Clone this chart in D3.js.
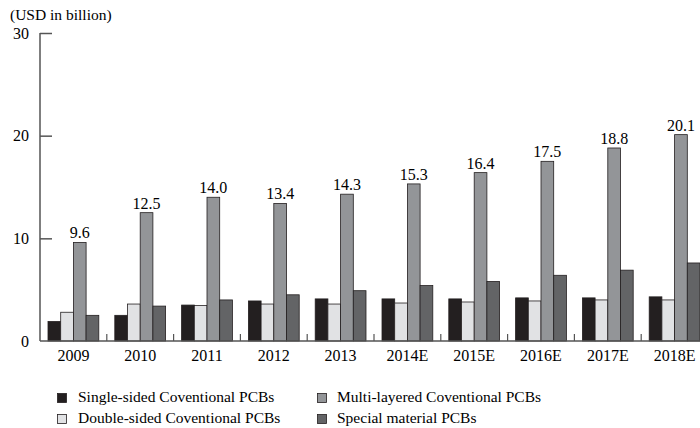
<!DOCTYPE html>
<html>
<head>
<meta charset="utf-8">
<script src="https://cdn.jsdelivr.net/npm/d3@7"></script>
<style>
  body { margin: 0; background: #fff; }
  svg { display: block; font-family: "Liberation Serif", "Times New Roman", serif; }
</style>
</head>
<body>
<svg id="chart" width="700" height="428"></svg>
<script>
var years = ["2009", "2010", "2011", "2012", "2013", "2014E", "2015E", "2016E", "2017E", "2018E"];
var seriesNames = ["Single-sided Coventional PCBs", "Double-sided Coventional PCBs",
                   "Multi-layered Coventional PCBs", "Special material PCBs"];
var singleSided  = [1.9, 2.5, 3.5, 3.9, 4.1, 4.1, 4.1, 4.2, 4.2, 4.3];
var doubleSided  = [2.8, 3.6, 3.45, 3.6, 3.6, 3.7, 3.8, 3.9, 4.0, 4.0];
var multiLayered = [9.6, 12.5, 14.0, 13.4, 14.3, 15.3, 16.4, 17.5, 18.8, 20.1];
var specialMat   = [2.5, 3.4, 4.0, 4.5, 4.9, 5.4, 5.8, 6.4, 6.9, 7.6];
var yTicks = [0, 10, 20, 30];
var colors = ["#231f20", "#e1e2e4", "#939598", "#636466"];

var svg = d3.select("#chart");
var series = [singleSided, doubleSided, multiLayered, specialMat];

var x0 = d3.scaleBand().domain(years).range([40, 708]);
var x1 = d3.scaleBand().domain(d3.range(4)).range([8, x0.bandwidth() - 8]);
var y = d3.scaleLinear().domain([0, 30]).range([341, 33]);

// unit title
svg.append("text")
    .attr("x", 10).attr("y", 20)
    .attr("font-size", 15.5)
    .text("(USD in billion)");

// y axis
var yAxis = d3.axisRight(y).tickValues(yTicks).tickSize(12).tickFormat("");
var gy = svg.append("g").attr("transform", "translate(40,0)").call(yAxis);
gy.select(".domain").attr("stroke", "#555").attr("stroke-width", 1.5)
    .attr("d", "M0," + y(30) + "V" + y(0));
gy.selectAll(".tick line").attr("stroke", "#555").attr("stroke-width", 1.5);
gy.selectAll(".tick").filter(function(d) { return d === 0; }).remove();

svg.append("g").selectAll("text")
    .data(yTicks)
    .enter().append("text")
    .attr("x", 29)
    .attr("y", function(d) { return y(d) + 5.5; })
    .attr("text-anchor", "end")
    .attr("font-size", 16)
    .text(function(d) { return d; });

// bars
var groups = svg.append("g").selectAll("g")
    .data(years)
    .enter().append("g")
    .attr("transform", function(d) { return "translate(" + x0(d) + ",0)"; });

groups.selectAll("rect")
    .data(function(d, i) { return series.map(function(s, k) { return {k: k, v: s[i]}; }); })
    .enter().append("rect")
    .attr("x", function(d) { return x1(d.k); })
    .attr("width", x1.bandwidth())
    .attr("y", function(d) { return y(d.v); })
    .attr("height", function(d) { return y(0) - y(d.v); })
    .attr("fill", function(d) { return colors[d.k]; })
    .attr("stroke", "#231f20")
    .attr("stroke-width", 0.8);

groups.append("text")
    .attr("x", x1(2) + x1.bandwidth() / 2)
    .attr("y", function(d, i) { return y(multiLayered[i]) - 4; })
    .attr("text-anchor", "middle")
    .attr("font-size", 16)
    .text(function(d, i) { return multiLayered[i].toFixed(1); });

// x axis
var xAxis = d3.axisBottom(x0).tickSize(0).tickPadding(10);
var gx = svg.append("g").attr("transform", "translate(0," + y(0) + ")").call(xAxis);
gx.select(".domain").attr("stroke", "#555").attr("stroke-width", 1.5)
    .attr("d", "M40,0H700");
gx.selectAll(".tick text")
    .attr("font-family", "Liberation Serif, Times New Roman, serif")
    .attr("font-size", 16)
    .attr("fill", "#000")
    .attr("dy", "0.71em")
    .attr("y", 9);

svg.append("g").selectAll("line")
    .data(years.slice(1))
    .enter().append("line")
    .attr("x1", function(d) { return x0(d); })
    .attr("x2", function(d) { return x0(d); })
    .attr("y1", y(0) - 7)
    .attr("y2", y(0))
    .attr("stroke", "#555")
    .attr("stroke-width", 1.2);

// legend
var legendPos = [[57.5, 393.5], [57.5, 414.5], [317.5, 393.5], [317.5, 414.5]];
var legend = svg.append("g").selectAll("g")
    .data(seriesNames)
    .enter().append("g")
    .attr("transform", function(d, i) { return "translate(" + legendPos[i][0] + "," + legendPos[i][1] + ")"; });

legend.append("rect")
    .attr("width", 9).attr("height", 9)
    .attr("fill", function(d, i) { return colors[i]; })
    .attr("stroke", "#231f20")
    .attr("stroke-width", 0.8);

legend.append("text")
    .attr("x", function(d, i) { return i < 2 ? 20.5 : 19.5; })
    .attr("y", 8.5)
    .attr("font-size", 15.5)
    .text(function(d) { return d; });
</script>
</body>
</html>
